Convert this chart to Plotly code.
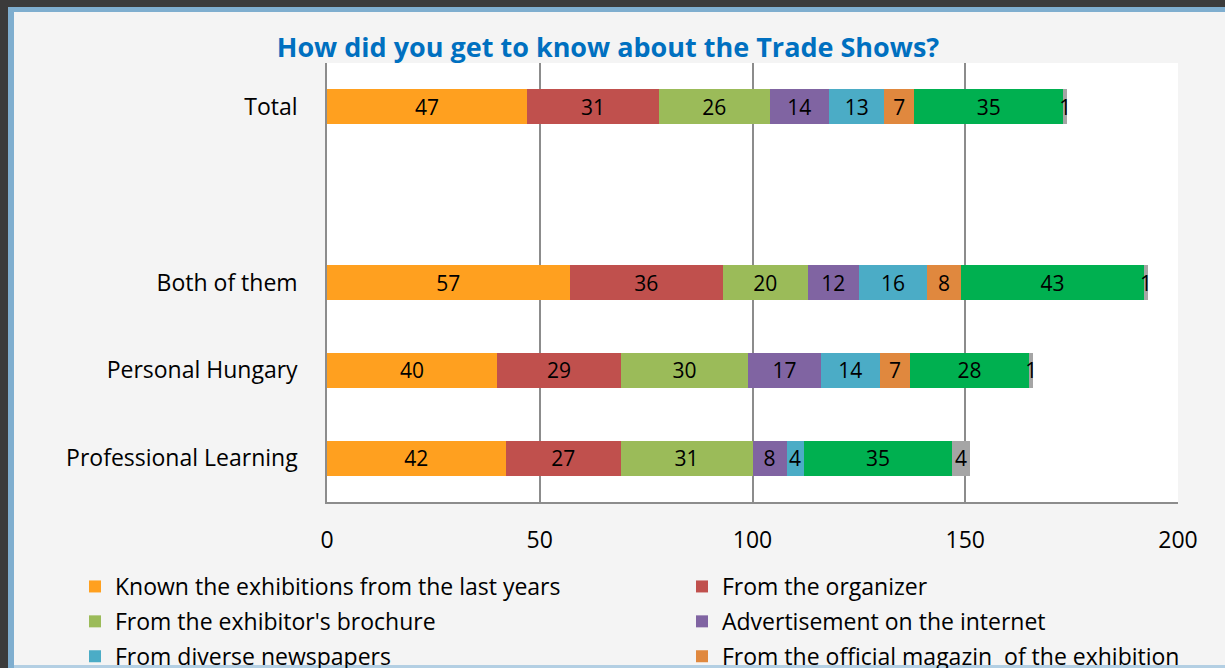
import plotly.graph_objects as go

# Survey rows (top to bottom) and the blank spacer row under "Total"
rows = ["Total", "Both of them", "Personal Hungary", "Professional Learning"]
row_order = ["Total", " ", "Both of them", "Personal Hungary", "Professional Learning"]

series_names = [
    "Known the exhibitions from the last years",
    "From the organizer",
    "From the exhibitor's brochure",
    "Advertisement on the internet",
    "From diverse newspapers",
    "From the official magazin  of the exhibition",
    "From business partners, colleagues",
    "Other",
]
series_colors = ["#FFA01F", "#C0504D", "#9BBB59", "#8064A2",
                 "#4BACC6", "#E0883E", "#00B050", "#A5A5A5"]

known = [47, 57, 40, 42]
organizer = [31, 36, 29, 27]
brochure = [26, 20, 30, 31]
internet = [14, 12, 17, 8]
newspapers = [13, 16, 14, 4]
magazin = [7, 8, 7, None]
partners = [35, 43, 28, 35]
other = [1, 1, 1, 4]

series_values = [known, organizer, brochure, internet,
                 newspapers, magazin, partners, other]

x_ticks = [0, 50, 100, 150, 200]

W, H = 1225, 668
L, R, T, B = 327, 47, 63, 166
FONT = "Open Sans"

# legend laid out in two columns: even series on the left, odd on the right
fig = go.Figure()
for i, (name, color, vals) in enumerate(zip(series_names, series_colors, series_values)):
    fig.add_trace(go.Bar(
        y=rows, x=vals, name=name, orientation="h",
        marker=dict(color=color, line=dict(width=0)),
        text=[str(v) if v else "" for v in vals],
        textposition="inside", insidetextanchor="middle",
        textangle=0, constraintext="none",
        textfont=dict(family=FONT, size=21, color="black"),
        cliponaxis=False,
        legend="legend" if i % 2 == 0 else "legend2",
        legendgroup=name,
    ))

# paper-coordinate helpers for the slide frame
pw, ph = W - L - R, H - T - B


def px_x(v):
    return (v - L) / pw


def px_y(v):
    return (H - B - v) / ph


frame = [
    # dark outer strips
    dict(x0=px_x(0), x1=px_x(W), y0=px_y(0), y1=px_y(7), color="#3B3B3B"),
    dict(x0=px_x(0), x1=px_x(8), y0=px_y(0), y1=px_y(H), color="#3B3B3B"),
    # blue border
    dict(x0=px_x(8), x1=px_x(W), y0=px_y(7), y1=px_y(12), color="#7FAECF"),
    dict(x0=px_x(8), x1=px_x(14), y0=px_y(7), y1=px_y(H), color="#7FAECF"),
    dict(x0=px_x(14), x1=px_x(W), y0=px_y(665), y1=px_y(H), color="#B3CFE3"),
]
shapes = [
    dict(type="rect", xref="paper", yref="paper", x0=f["x0"], x1=f["x1"],
         y0=f["y0"], y1=f["y1"], fillcolor=f["color"], line=dict(width=0),
         layer="above")
    for f in frame
]

legend_style = dict(
    orientation="v", xref="container", yref="container",
    xanchor="left", y=1 - 565 / H, yanchor="top",
    traceorder="grouped", tracegroupgap=2,
    font=dict(family=FONT, size=23, color="black"),
    bgcolor="rgba(0,0,0,0)", borderwidth=0,
)

fig.update_layout(
    width=W, height=H,
    barmode="stack", bargap=0.6,
    paper_bgcolor="#F4F4F4", plot_bgcolor="white",
    margin=dict(l=L, r=R, t=T, b=B, autoexpand=False),
    font=dict(family=FONT, size=23, color="black"),
    title=dict(
        text="<b>How did you get to know about the Trade Shows?</b>",
        x=608 / W, xanchor="center", y=1 - 48 / H, yanchor="middle",
        font=dict(family=FONT, size=27, color="#0070C0"),
    ),
    xaxis=dict(
        range=[0, 200], tickvals=x_ticks, ticktext=[str(t) for t in x_ticks],
        showgrid=True, gridcolor="#8C8C8C", gridwidth=1.5,
        showline=True, linecolor="#8C8C8C", linewidth=1.5,
        zeroline=False, ticks="", ticklabelstandoff=17,
        tickfont=dict(family=FONT, size=23, color="black"),
    ),
    yaxis=dict(
        type="category", categoryorder="array", categoryarray=row_order,
        range=[4.5, -0.5], showgrid=False,
        showline=True, linecolor="#8C8C8C", linewidth=1.5,
        ticks="", ticklabelstandoff=23,
        tickfont=dict(family=FONT, size=23, color="black"),
    ),
    legend=dict(x=75 / W, **legend_style),
    legend2=dict(x=682 / W, **legend_style),
    shapes=shapes,
    showlegend=True,
)

fig.write_html("out.html")
